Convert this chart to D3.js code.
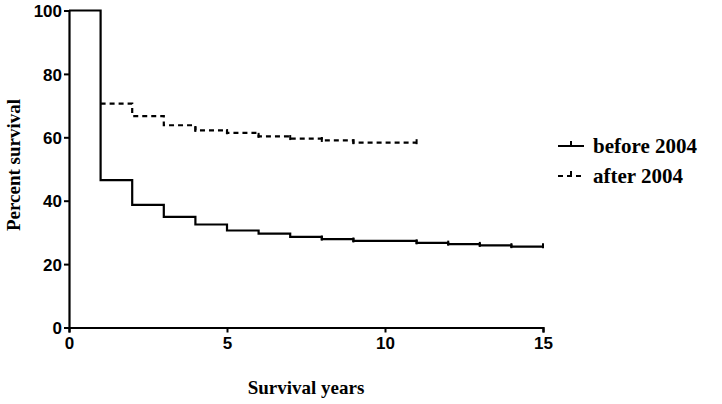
<!DOCTYPE html>
<html>
<head>
<meta charset="utf-8">
<script src="https://cdn.jsdelivr.net/npm/d3@7"></script>
<style>
  html, body { margin: 0; padding: 0; background: #fff; }
  svg { display: block; }
</style>
</head>
<body>
<svg id="chart" width="722" height="404"></svg>
<script>
// ---- data ----
const beforeTimes  = [0, 1, 2, 3, 4, 5, 6, 7, 8, 9, 11, 12, 13, 14];
const beforeValues = [100, 46.5, 38.7, 34.9, 32.5, 30.6, 29.6, 28.6, 27.9, 27.3, 26.7, 26.3, 25.9, 25.5];
const beforeEnd = 15;
const beforeCensor = [8, 9, 11, 12, 13, 14, 15];

const afterTimes  = [0, 1, 2, 3, 4, 5, 6, 7, 8, 9];
const afterValues = [100, 70.6, 66.7, 63.8, 62.2, 61.4, 60.3, 59.6, 59.0, 58.3];
const afterEnd = 11;
const afterCensor = [4, 5, 6, 7, 8, 9, 11];

const xTicks = [0, 5, 10, 15];
const yTicks = [0, 20, 40, 60, 80, 100];
const seriesNames = ["before 2004", "after 2004"];
const xTitle = "Survival years";
const yTitle = "Percent survival";

// ---- chart ----
const svg = d3.select("#chart");
const x = d3.scaleLinear().domain([0, 15]).range([69, 543]);
const y = d3.scaleLinear().domain([0, 100]).range([327.5, 10.5]);

const tickFont = "'Liberation Sans', Arial, sans-serif";
const titleFont = "'Liberation Serif', 'Times New Roman', serif";

function stepPoints(times, values, end) {
  const pts = times.map((t, i) => [t, values[i]]);
  pts.push([end, values[values.length - 1]]);
  return pts;
}
function valueAt(times, values, t) {
  let v = values[0];
  for (let i = 0; i < times.length; i++) if (times[i] <= t) v = values[i];
  return v;
}

const line = d3.line().x(d => x(d[0])).y(d => y(d[1])).curve(d3.curveStepAfter);

// after 2004 (dashed) — starts at the drop at t=1
const afterPts = stepPoints(afterTimes, afterValues, afterEnd).slice(1);
svg.append("path")
  .attr("d", line(afterPts))
  .attr("fill", "none").attr("stroke", "#000").attr("stroke-width", 2.2)
  .attr("stroke-dasharray", "5,4");

// before 2004 (solid)
svg.append("path")
  .attr("d", line(stepPoints(beforeTimes, beforeValues, beforeEnd)))
  .attr("fill", "none").attr("stroke", "#000").attr("stroke-width", 2.2);

// censor ticks
function censor(times, values, cens) {
  svg.append("g").selectAll("line").data(cens).join("line")
    .attr("x1", d => x(d)).attr("x2", d => x(d))
    .attr("y1", d => y(valueAt(times, values, d)) - 3.5)
    .attr("y2", d => y(valueAt(times, values, d)) + 1.5)
    .attr("stroke", "#000").attr("stroke-width", 2);
}
censor(beforeTimes, beforeValues, beforeCensor);
censor(afterTimes, afterValues, afterCensor);

// axes
const xAxis = svg.append("g").attr("transform", `translate(0,${y(0)})`)
  .call(d3.axisBottom(x).tickValues(xTicks).tickSize(5).tickPadding(4).tickFormat(d3.format("d")));
const yAxis = svg.append("g").attr("transform", `translate(${x(0)},0)`)
  .call(d3.axisLeft(y).tickValues(yTicks).tickSize(5).tickPadding(2).tickFormat(d3.format("d")));
[xAxis, yAxis].forEach(g => {
  g.select(".domain").attr("stroke", "#000").attr("stroke-width", 2.2);
  g.selectAll(".tick line").attr("stroke", "#000").attr("stroke-width", 2);
  g.selectAll(".tick text").attr("fill", "#000")
    .style("font-family", tickFont).style("font-weight", "bold").style("font-size", "17px");
});
yAxis.selectAll(".tick text").attr("dy", "0.36em");

// axis titles
svg.append("text").attr("x", 306).attr("y", 394).attr("text-anchor", "middle")
  .style("font-family", titleFont).style("font-weight", "bold").style("font-size", "19px")
  .text(xTitle);
svg.append("text").attr("transform", "translate(20,165) rotate(-90)").attr("text-anchor", "middle")
  .style("font-family", titleFont).style("font-weight", "bold").style("font-size", "19px")
  .text(yTitle);

// legend
const legend = svg.append("g");
const legY = [146, 176];
seriesNames.forEach((name, i) => {
  const g = legend.append("g").attr("transform", `translate(0,${legY[i]})`);
  g.append("line").attr("x1", 558).attr("x2", 584).attr("y1", 0).attr("y2", 0)
    .attr("stroke", "#000").attr("stroke-width", 2)
    .attr("stroke-dasharray", i === 1 ? "5,4" : null);
  g.append("line").attr("x1", 571).attr("x2", 571).attr("y1", -5).attr("y2", 0)
    .attr("stroke", "#000").attr("stroke-width", 2);
  g.append("text").attr("x", 593).attr("y", 0).attr("dy", "0.33em")
    .style("font-family", titleFont).style("font-weight", "bold").style("font-size", "21px")
    .text(name);
});
</script>
</body>
</html>
